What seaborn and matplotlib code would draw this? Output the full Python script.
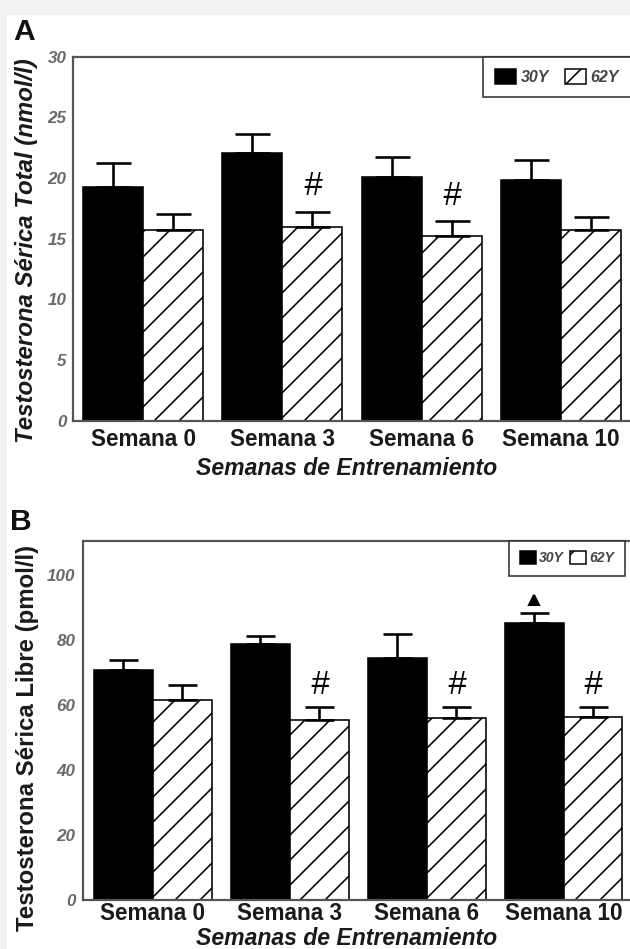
import numpy as np
import pandas as pd
import matplotlib
matplotlib.use('Agg')
import matplotlib.pyplot as plt
import seaborn as sns
from matplotlib.patches import Patch, Rectangle

# ---------------- data ----------------
weeks = ['Semana 0', 'Semana 3', 'Semana 6', 'Semana 10']
groups = ['30Y', '62Y']

total_30y = [19.3, 22.1, 20.1, 19.8]
total_30y_err = [1.9, 1.55, 1.6, 1.65]
total_62y = [15.7, 16.0, 15.2, 15.7]
total_62y_err = [1.3, 1.2, 1.3, 1.1]
total_hash = [None, 19.3, 18.5, None]       # '#' above the 62Y bars
total_triangle = [None, None, None, None]
total_ticks = [0, 5, 10, 15, 20, 25, 30]

free_30y = [70.6, 78.8, 74.4, 85.1]
free_30y_err = [3.2, 2.4, 7.5, 3.3]
free_62y = [61.5, 55.5, 56.1, 56.4]
free_62y_err = [4.6, 3.8, 3.4, 3.1]
free_hash = [None, 66.0, 66.0, 66.0]
free_triangle = [None, None, None, 92.2]    # triangle above the 30Y bars
free_ticks = [0, 20, 40, 60, 80, 100]

DPI = 150


def px(v):
    return v * 72.0 / DPI


sns.set_style('white')
plt.rcParams['font.family'] = ['Liberation Sans', 'DejaVu Sans']
plt.rcParams['hatch.linewidth'] = px(1.6)
plt.rcParams['hatch.color'] = 'black'

W, H = 630, 949
fig = plt.figure(figsize=(W / DPI, H / DPI), dpi=DPI, facecolor='#f2f2f2')
fig.patches.append(Rectangle((7 / W, 0), 1, 1 - 15 / H, transform=fig.transFigure,
                             facecolor='white', edgecolor='none', zorder=-5))


def box(left, top, right, bottom):
    return [left / W, 1 - bottom / H, (right - left) / W, (bottom - top) / H]


axA = fig.add_axes(box(72.7, 56.7, 632, 420.7))
axB = fig.add_axes(box(82.7, 540.7, 632, 900))

TICK_COLOR = '#6a6a6a'
SPINE_COLOR = '#555555'


def panel(ax, v30, e30, v62, e62, ylim, xlim, ticks, cap_px, hashes, tris,
          ylabel, ylabel_style, ylab_xy, xlab_xy, leg_left, leg_fs, leg_hl, leg_hh,
          leg_tp, leg_cs, tick_pad, xtick_pad, leg_hatch):
    df = pd.DataFrame({'Semana': weeks * 2,
                       'Grupo': ['30Y'] * 4 + ['62Y'] * 4,
                       'Valor': v30 + v62})
    sns.barplot(data=df, x='Semana', y='Valor', hue='Grupo', order=weeks,
                hue_order=groups, palette={'30Y': 'black', '62Y': 'white'},
                saturation=1, width=0.86, errorbar=None, edgecolor='black',
                linewidth=px(1.6), legend=False, ax=ax)
    for bar in ax.containers[1]:
        bar.set_hatch('//')
    for cont, errs in zip(ax.containers, [e30, e62]):
        xs = [b.get_x() + b.get_width() / 2 for b in cont]
        ys = [b.get_height() for b in cont]
        ax.errorbar(xs, ys, yerr=[np.zeros(len(errs)), errs], fmt='none',
                    ecolor='black', elinewidth=px(2.6), capsize=px(cap_px / 2),
                    capthick=px(2.6), zorder=3)
    for b, h in zip(ax.containers[1], hashes):
        if h is not None:
            ax.text(b.get_x() + b.get_width() / 2, h, '#', ha='center', va='center',
                    fontsize=px(33), fontstyle='italic', color='black')
    for b, t in zip(ax.containers[0], tris):
        if t is not None:
            ax.plot([b.get_x() + b.get_width() / 2], [t], marker='^',
                    markersize=px(10), color='black', linestyle='none')

    ax.set_xlim(*xlim)
    ax.set_ylim(*ylim)
    ax.set_yticks(ticks)
    ax.set_yticklabels([str(t) for t in ticks], fontsize=px(17), fontstyle='italic',
                       fontweight='bold', color=TICK_COLOR)
    ax.set_xticks(range(len(weeks)))
    ax.set_xticklabels(weeks, fontsize=px(22.5), fontweight='bold', color='#1a1a1a')
    ax.tick_params(axis='y', length=0, pad=tick_pad)
    ax.tick_params(axis='x', length=0, pad=xtick_pad)
    for s in ax.spines.values():
        s.set_visible(True)
        s.set_color(SPINE_COLOR)
        s.set_linewidth(px(2.2))
    ax.set_facecolor('white')

    ax.set_ylabel(ylabel, fontsize=px(24), fontweight='bold', fontstyle=ylabel_style,
                  color='#1a1a1a')
    ax.yaxis.set_label_coords(*ylab_xy)
    ax.set_xlabel('Semanas de Entrenamiento', fontsize=px(23), fontweight='bold',
                  fontstyle='italic', color='#1a1a1a')
    ax.xaxis.set_label_coords(*xlab_xy)

    handles = [Patch(facecolor='black', edgecolor='black', linewidth=px(1.5)),
               Patch(facecolor='white', edgecolor='black', hatch=leg_hatch,
                     linewidth=px(1.5))]
    leg = ax.legend(handles, groups, ncol=2, loc='upper left',
                    bbox_to_anchor=(leg_left, 1.0), borderaxespad=0, frameon=True,
                    fancybox=False, framealpha=1, edgecolor='#333333',
                    prop={'size': leg_fs, 'weight': 'bold', 'style': 'italic'},
                    handlelength=leg_hl, handleheight=leg_hh, handletextpad=leg_tp,
                    columnspacing=leg_cs, borderpad=0.75)
    leg.get_frame().set_linewidth(px(1.6))
    for t in leg.get_texts():
        t.set_color('#444444')


wA = 632 - 72.7
hA = 420.7 - 56.7
panel(axA, total_30y, total_30y_err, total_62y, total_62y_err,
      ylim=(0, 30), xlim=(-0.505, 3.51), ticks=total_ticks, cap_px=35,
      hashes=total_hash, tris=total_triangle,
      ylabel='Testosterona Sérica Total (nmol/l)', ylabel_style='italic',
      ylab_xy=((38 - 72.7) / wA, 0.466), xlab_xy=(0.49, (420.7 - 457) / hA),
      leg_left=(483 - 72.7) / wA, leg_fs=px(16), leg_hl=1.3, leg_hh=1.1,
      leg_tp=0.3, leg_cs=1.0, tick_pad=px(6), xtick_pad=px(7), leg_hatch='/')

wB = 632 - 82.7
hB = 900 - 540.7
panel(axB, free_30y, free_30y_err, free_62y, free_62y_err,
      ylim=(0, 110.5), xlim=(-0.512, 3.5), ticks=free_ticks, cap_px=29,
      hashes=free_hash, tris=free_triangle,
      ylabel='Testosterona Sérica Libre (pmol/l)', ylabel_style='normal',
      ylab_xy=((39 - 82.7) / wB, 0.45), xlab_xy=(0.48, (900 - 927) / hB),
      leg_left=(509 - 82.7) / wB, leg_fs=px(14), leg_hl=1.15, leg_hh=1.05,
      leg_tp=0.2, leg_cs=0.5, tick_pad=px(7), xtick_pad=px(2), leg_hatch='//')

fig.text(13 / W, 1 - 40 / H, 'A', fontsize=px(30), fontweight='bold', color='#111111',
         ha='left', va='baseline')
fig.text(10 / W, 1 - 530 / H, 'B', fontsize=px(30), fontweight='bold', color='#111111',
         ha='left', va='baseline')

fig.savefig('out.png', dpi=DPI, facecolor=fig.get_facecolor())
